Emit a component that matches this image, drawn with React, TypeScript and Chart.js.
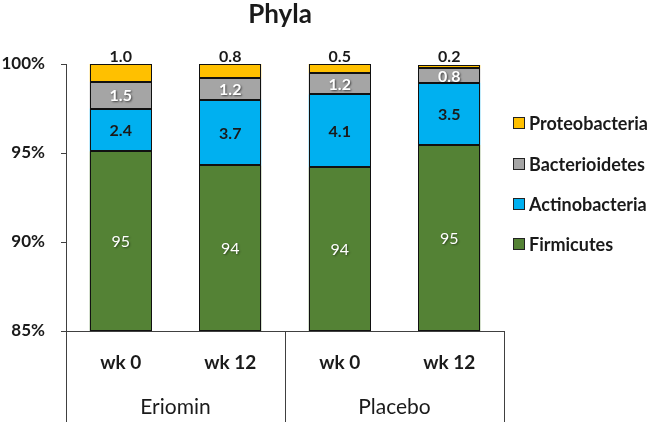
import React, { useEffect, useRef } from "react";
import { Chart, registerables } from "chart.js";

Chart.register(...registerables);

const categories = ["wk 0", "wk 12", "wk 0", "wk 12"];
const groups = ["Eriomin", "Placebo"];
const firmicutes = [95.1, 94.3, 94.2, 95.45];
const actinobacteria = [2.4, 3.7, 4.1, 3.5];
const bacterioidetes = [1.5, 1.2, 1.2, 0.8];
const proteobacteria = [1.0, 0.8, 0.5, 0.2];
const seriesNames = ["Firmicutes", "Actinobacteria", "Bacterioidetes", "Proteobacteria"];
const yMin = 85;
const yMax = 100;
const yStep = 5;

const colors = ["#548235", "#00B0F0", "#A5A5A5", "#FFC000"];
const FONT = "Lato, 'Open Sans', sans-serif";
const TEXT = "#1a1a1a";
const AXIS = "#404040";

const overlay = {
  id: "overlay",
  afterDatasetsDraw(chart: any) {
    const ctx = chart.ctx;
    const area = chart.chartArea;
    const xs = chart.scales.x;
    ctx.save();

    // crisp outlines of bar segments
    ctx.save();
    ctx.beginPath();
    ctx.rect(area.left, area.top - 2, area.right - area.left, area.bottom - area.top + 2);
    ctx.clip();
    ctx.strokeStyle = "#111111";
    ctx.lineWidth = 1;
    chart.data.datasets.forEach((ds: any, di: number) => {
      const meta = chart.getDatasetMeta(di);
      meta.data.forEach((el: any) => {
        const x0 = Math.round(el.x - el.width / 2) + 0.5;
        const x1 = Math.round(el.x + el.width / 2) - 0.5;
        const y0 = Math.round(el.y) + 0.5;
        const y1 = Math.round(Math.min(el.base, area.bottom)) - 0.5;
        ctx.strokeRect(x0, y0, x1 - x0, y1 - y0);
      });
    });
    ctx.restore();

    // title
    ctx.fillStyle = TEXT;
    ctx.font = `bold 26px ${FONT}`;
    ctx.textAlign = "center";
    ctx.textBaseline = "alphabetic";
    ctx.fillText("Phyla", 280, 23);

    const clearShadow = () => {
      ctx.shadowColor = "transparent";
      ctx.shadowBlur = 0;
      ctx.shadowOffsetX = 0;
      ctx.shadowOffsetY = 0;
    };

    // data labels
    chart.data.datasets.forEach((ds: any, di: number) => {
      const meta = chart.getDatasetMeta(di);
      meta.data.forEach((el: any, i: number) => {
        const v = ds.data[i];
        const top = el.y;
        const base = Math.min(el.base, area.bottom);
        ctx.textAlign = "center";
        ctx.textBaseline = "middle";
        if (di === 0) {
          ctx.font = `16px ${FONT}`;
          ctx.fillStyle = "#ffffff";
          ctx.shadowColor = "rgba(0,0,0,0.45)";
          ctx.shadowBlur = 2;
          ctx.shadowOffsetX = 1;
          ctx.shadowOffsetY = 1;
          ctx.fillText(v.toFixed(0), el.x, (top + base) / 2 + 1);
        } else if (di === 1) {
          clearShadow();
          ctx.font = `bold 16px ${FONT}`;
          ctx.fillStyle = TEXT;
          ctx.fillText(v.toFixed(1), el.x, (top + base) / 2 + 1);
        } else if (di === 2) {
          ctx.font = `bold 16px ${FONT}`;
          ctx.fillStyle = "#ffffff";
          ctx.shadowColor = "rgba(0,0,0,0.6)";
          ctx.shadowBlur = 2;
          ctx.shadowOffsetX = 1;
          ctx.shadowOffsetY = 1;
          ctx.fillText(v.toFixed(1), el.x, (top + base) / 2 + 1);
        } else {
          clearShadow();
          ctx.font = `bold 16px ${FONT}`;
          ctx.fillStyle = TEXT;
          ctx.textBaseline = "alphabetic";
          ctx.fillText(v.toFixed(1), el.x, area.top - 2);
        }
        clearShadow();
      });
    });

    // x category labels and group separators
    ctx.strokeStyle = AXIS;
    ctx.lineWidth = 1;
    const bottom = chart.height;
    const mid = (xs.getPixelForValue(1) + xs.getPixelForValue(2)) / 2;
    [area.left, mid, area.right].forEach((x: number) => {
      const px = Math.round(x) + 0.5;
      ctx.beginPath();
      ctx.moveTo(px, area.bottom);
      ctx.lineTo(px, bottom - 2);
      ctx.stroke();
    });
    ctx.fillStyle = TEXT;
    ctx.textAlign = "center";
    ctx.textBaseline = "middle";
    ctx.font = `bold 19px ${FONT}`;
    categories.forEach((c, i) => {
      ctx.fillText(c, xs.getPixelForValue(i), area.bottom + 32);
    });
    ctx.font = `21px ${FONT}`;
    groups.forEach((g, gi) => {
      const cx = (xs.getPixelForValue(gi * 2) + xs.getPixelForValue(gi * 2 + 1)) / 2;
      ctx.fillText(g, cx, area.bottom + 76);
    });

    // legend (reverse order)
    const lx = area.right + 9;
    const rows = [123, 164, 204, 244];
    ctx.font = `bold 18px ${FONT}`;
    ctx.textAlign = "left";
    for (let k = 0; k < 4; k++) {
      const di = 3 - k;
      const cy = rows[k];
      ctx.fillStyle = colors[di];
      ctx.fillRect(lx, cy - 6, 12, 12);
      ctx.strokeStyle = "#222";
      ctx.strokeRect(lx + 0.5, cy - 5.5, 11, 11);
      ctx.fillStyle = TEXT;
      ctx.fillText(seriesNames[di], lx + 16, cy + 1);
    }
    ctx.restore();
  },
};

export default function App() {
  const ref = useRef<HTMLCanvasElement | null>(null);
  useEffect(() => {
    document.body.style.margin = "0";
    const values = [firmicutes, actinobacteria, bacterioidetes, proteobacteria];
    const chart = new Chart(ref.current as HTMLCanvasElement, {
      type: "bar",
      data: {
        labels: categories,
        datasets: seriesNames.map((name, i) => ({
          label: name,
          data: values[i],
          backgroundColor: colors[i],
          borderWidth: 0,
          categoryPercentage: 1,
          barPercentage: 0.566,
        })),
      },
      options: {
        animation: false,
        responsive: false,
        layout: { padding: { top: 64, right: 157, left: 0, bottom: 0 } },
        plugins: {
          legend: { display: false },
          title: { display: false },
          tooltip: { enabled: false },
        },
        scales: {
          x: {
            stacked: true,
            grid: { display: false },
            ticks: { display: false },
            border: { display: true, color: AXIS, width: 1 },
            afterFit: (s: any) => {
              s.height = 93;
            },
          },
          y: {
            stacked: true,
            min: yMin,
            max: yMax,
            ticks: {
              stepSize: yStep,
              padding: 16,
              color: TEXT,
              font: { family: FONT, size: 17, weight: "bold" },
              callback: (v: any) => `${v}%`,
            },
            grid: {
              display: true,
              drawOnChartArea: false,
              drawTicks: true,
              tickLength: 5,
              color: AXIS,
            },
            border: { display: true, color: AXIS, width: 1 },
            afterFit: (s: any) => {
              s.width = 66;
            },
          },
        },
      },
      plugins: [overlay],
    });
    return () => chart.destroy();
  }, []);
  return (
    <div style={{ width: 661, height: 424, background: "#fff" }}>
      <canvas ref={ref} width={661} height={424} />
    </div>
  );
}
